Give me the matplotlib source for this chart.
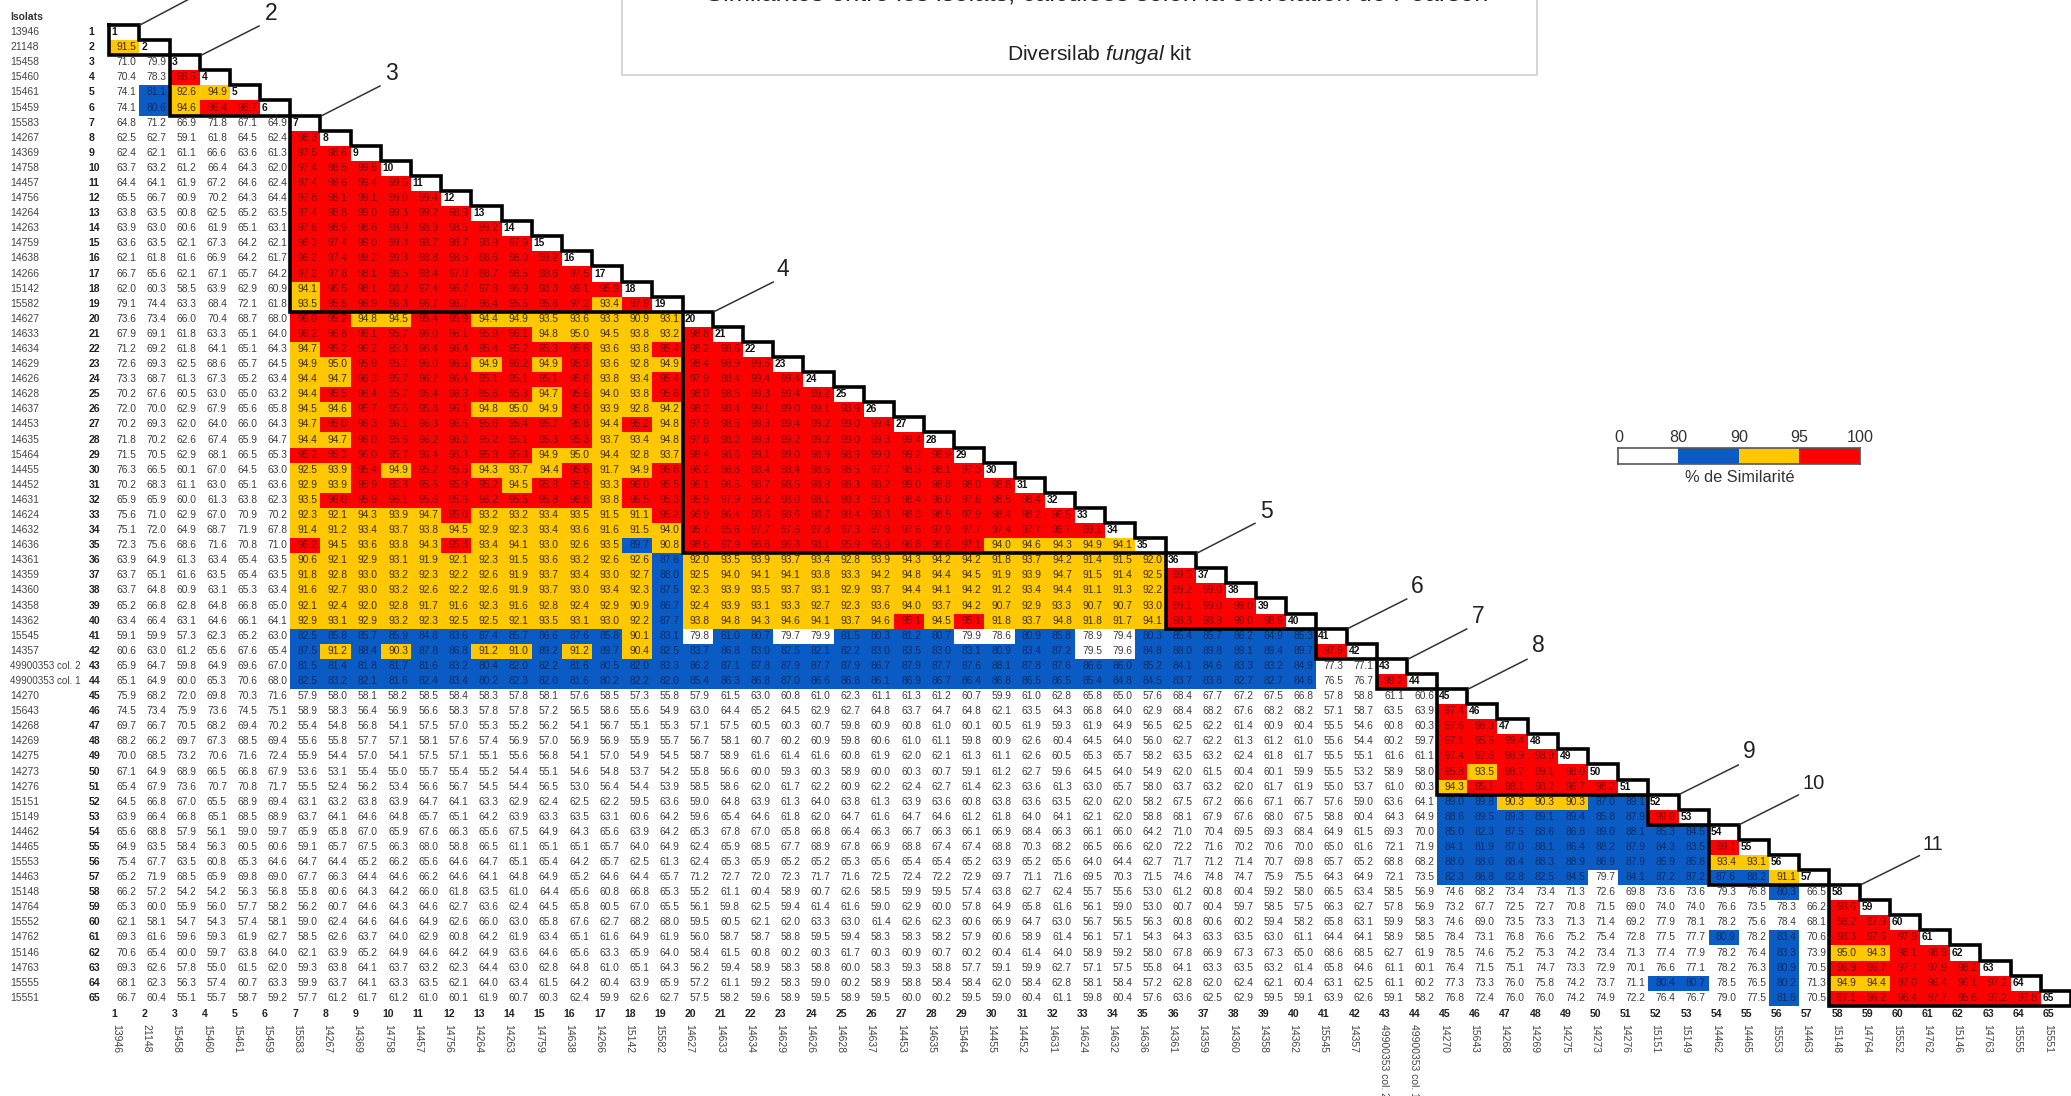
import numpy as np
import matplotlib
matplotlib.use("Agg")
import matplotlib.pyplot as plt
from matplotlib.colors import ListedColormap, BoundaryNorm

isolates = ["13946","21148","15458","15460","15461","15459","15583","14267","14369","14758","14457","14756","14264",
 "14263","14759","14638","14266","15142","15582","14627","14633","14634","14629","14626","14628","14637","14453",
 "14635","15464","14455","14452","14631","14624","14632","14636","14361","14359","14360","14358","14362","15545",
 "14357","49900353 col. 2","49900353 col. 1","14270","15643","14268","14269","14275","14273","14276","15151","15149",
 "14462","14465","15553","14463","15148","14764","15552","14762","15146","14763","15555","15551"]

# similarity (%) row by row; 94.96 = printed 95.0 but coloured below the 95 class
r02=[91.5]
r03=[71.0,79.9]
r04=[70.4,78.3,98.5]
r05=[74.1,81.1,92.6,94.9]
r06=[74.1,80.6,94.6,96.4,98.7]
r07=[64.8,71.2,66.9,71.8,67.1,64.9]
r08=[62.5,62.7,59.1,61.8,64.5,62.4,98.3]
r09=[62.4,62.1,61.1,66.6,63.6,61.3,97.5,98.6]
r10=[63.7,63.2,61.2,66.4,64.3,62.0,97.4,98.5,99.6]
r11=[64.4,64.1,61.9,67.2,64.6,62.4,97.4,98.6,99.4,99.5]
r12=[65.5,66.7,60.9,70.2,64.3,64.4,97.8,98.1,99.1,99.0,99.4]
r13=[63.8,63.5,60.8,62.5,65.2,63.5,97.4,98.8,99.0,99.3,99.2,98.9]
r14=[63.9,63.0,60.6,61.9,65.1,63.1,97.6,98.9,98.8,98.9,98.9,98.5,99.2]
r15=[63.6,63.5,62.1,67.3,64.2,62.1,96.3,97.4,99.0,99.3,98.7,98.7,98.9,97.9]
r16=[62.1,61.8,61.6,66.9,64.2,61.7,96.2,97.4,99.2,99.3,98.8,98.5,98.6,98.0,99.2]
r17=[66.7,65.6,62.1,67.1,65.7,64.2,97.2,97.8,98.1,98.5,98.4,97.9,98.7,98.5,98.6,97.5]
r18=[62.0,60.3,58.5,63.9,62.9,60.9,94.1,96.5,98.1,98.2,97.4,96.7,97.8,96.9,98.3,99.1,95.9]
r19=[79.1,74.4,63.3,68.4,72.1,61.8,93.5,95.6,96.9,96.3,96.7,96.7,96.4,95.5,95.6,97.2,93.4,97.9]
r20=[73.6,73.4,66.0,70.4,68.7,68.0,96.0,95.2,94.8,94.5,95.4,95.9,94.4,94.9,93.5,93.6,93.3,90.9,93.1]
r21=[67.9,69.1,61.8,63.3,65.1,64.0,96.2,96.8,96.1,95.7,96.0,96.1,95.9,96.1,94.8,94.96,94.5,93.8,93.2,98.8]
r22=[71.2,69.2,61.8,64.1,65.1,64.3,94.7,95.2,96.2,95.8,96.4,96.4,95.4,95.2,95.3,95.6,93.6,93.8,95.4,98.2,98.6]
r23=[72.6,69.3,62.5,68.6,65.7,64.5,94.9,94.96,95.9,95.7,96.0,96.5,94.9,96.2,94.9,95.3,93.6,92.8,94.9,98.4,98.9,99.5]
r24=[73.3,68.7,61.3,67.3,65.2,63.4,94.4,94.7,96.3,95.7,96.2,96.4,95.1,95.1,95.1,95.6,93.8,93.4,95.4,97.9,98.4,99.4,99.4]
r25=[70.2,67.6,60.5,63.0,65.0,63.2,94.4,95.5,96.4,95.7,96.4,96.3,95.6,95.3,94.7,95.6,94.0,93.8,95.6,98.0,98.5,99.3,99.4,99.2]
r26=[72.0,70.0,62.9,67.9,65.6,65.8,94.5,94.6,95.7,95.6,95.8,96.1,94.8,94.96,94.9,95.0,93.9,92.8,94.2,98.2,98.4,99.1,99.0,99.1,98.9]
r27=[70.2,69.3,62.0,64.0,66.0,64.3,94.7,95.0,96.3,96.1,96.3,96.5,95.6,95.4,95.7,95.8,94.4,95.2,94.8,97.9,98.5,99.3,99.4,99.2,99.0,99.4]
r28=[71.8,70.2,62.6,67.4,65.9,64.7,94.4,94.7,96.0,95.6,96.2,96.2,95.2,95.1,95.3,95.3,93.7,93.4,94.8,97.8,98.2,99.3,99.2,99.2,99.0,99.3,99.4]
r29=[71.5,70.5,62.9,68.1,66.5,65.3,95.2,95.3,96.0,95.7,96.4,96.3,95.3,95.3,94.9,94.96,94.4,92.8,93.7,98.4,98.6,99.1,99.0,98.9,98.9,99.0,99.2,98.9]
r30=[76.3,66.5,60.1,67.0,64.5,63.0,92.5,93.9,95.4,94.9,95.2,95.5,94.3,93.7,94.4,95.6,91.7,94.9,96.8,96.2,96.8,98.4,98.4,98.6,98.5,97.7,98.3,98.1,97.3]
r31=[70.2,68.3,61.1,63.0,65.1,63.6,92.9,93.9,95.9,95.8,95.6,95.9,95.2,94.5,95.8,95.9,93.3,96.0,95.5,96.1,96.5,98.7,98.5,98.8,98.3,98.2,99.0,98.8,98.0,98.8]
r32=[65.9,65.9,60.0,61.3,63.8,62.3,93.5,96.0,95.9,96.1,95.6,95.6,96.2,95.5,95.8,96.8,93.8,96.5,95.3,95.9,97.9,98.2,98.0,98.1,98.3,97.8,98.4,98.0,97.6,98.5,98.4]
r33=[75.6,71.0,62.9,67.0,70.9,70.2,92.3,92.1,94.3,93.9,94.7,95.0,93.2,93.2,93.4,93.5,91.5,91.1,95.2,96.9,96.4,98.6,98.6,98.7,98.4,98.3,98.3,98.5,97.9,98.4,98.2,96.5]
r34=[75.1,72.0,64.9,68.7,71.9,67.8,91.4,91.2,93.4,93.7,93.8,94.5,92.9,92.3,93.4,93.6,91.6,91.5,94.0,95.7,95.6,97.7,97.6,97.8,97.3,97.8,97.6,97.9,97.7,97.4,97.7,96.7,99.1]
r35=[72.3,75.6,68.6,71.6,70.8,71.0,96.2,94.5,93.6,93.8,94.3,95.3,93.4,94.1,93.0,92.6,93.5,89.7,90.8,98.6,97.9,96.6,96.8,98.1,95.9,96.9,96.8,96.6,97.1,94.0,94.6,94.3,94.9,94.1]
r36=[63.9,64.9,61.3,63.4,65.4,63.5,90.6,92.1,92.9,93.1,91.9,92.1,92.3,91.5,93.6,93.2,92.6,92.6,87.6,92.0,93.5,93.9,93.7,93.4,92.8,93.9,94.3,94.2,94.2,91.8,93.7,94.2,91.4,91.5,92.0]
r37=[63.7,65.1,61.6,63.5,65.4,63.5,91.8,92.8,93.0,93.2,92.3,92.2,92.6,91.9,93.7,93.4,93.0,92.7,88.0,92.5,94.0,94.1,94.1,93.8,93.3,94.2,94.8,94.4,94.5,91.9,93.9,94.7,91.5,91.4,92.5,99.5]
r38=[63.7,64.8,60.9,63.1,65.3,63.4,91.6,92.7,93.0,93.2,92.6,92.2,92.6,91.9,93.7,93.0,93.4,92.3,87.5,92.3,93.9,93.5,93.7,93.1,92.9,93.7,94.4,94.1,94.2,91.2,93.4,94.4,91.1,91.3,92.2,99.2,99.0]
r39=[65.2,66.8,62.8,64.8,66.8,65.0,92.1,92.4,92.0,92.8,91.7,91.6,92.3,91.6,92.8,92.4,92.9,90.9,86.7,92.4,93.9,93.1,93.3,92.7,92.3,93.6,94.0,93.7,94.2,90.7,92.9,93.3,90.7,90.7,93.0,99.1,99.0,99.0]
r40=[63.4,66.4,63.1,64.6,66.1,64.1,92.9,93.1,92.9,93.2,92.3,92.5,92.5,92.1,93.5,93.1,93.0,92.2,87.7,93.8,94.8,94.3,94.6,94.1,93.7,94.6,95.1,94.5,95.1,91.8,93.7,94.8,91.8,91.7,94.1,98.8,98.8,99.0,98.9]
r41=[59.1,59.9,57.3,62.3,65.2,63.0,82.5,85.8,85.7,85.9,84.8,83.6,87.4,85.7,86.6,87.6,85.8,90.1,83.1,79.8,81.0,80.7,79.7,79.9,81.5,80.3,81.2,80.7,79.9,78.6,80.9,85.8,78.9,79.4,80.3,85.4,85.7,86.2,84.9,85.3]
r42=[60.6,63.0,61.2,65.6,67.6,65.4,87.5,91.2,88.4,90.3,87.8,86.8,91.2,91.0,89.2,91.2,89.7,90.4,82.5,83.7,86.8,83.0,82.5,82.1,82.2,83.0,83.5,83.0,83.1,80.9,83.4,87.2,79.5,79.6,84.8,88.0,89.8,89.1,89.4,89.7,97.9]
r43=[65.9,64.7,59.8,64.9,69.6,67.0,81.5,81.4,81.8,81.7,81.6,83.2,80.4,82.0,82.2,81.6,80.5,82.0,83.3,86.2,87.1,87.8,87.9,87.7,87.9,86.7,87.9,87.7,87.6,88.1,87.8,87.6,86.6,86.0,85.2,84.1,84.6,83.3,83.2,84.9,77.3,77.1]
r44=[65.1,64.9,60.0,65.3,70.6,68.0,82.5,83.2,82.1,81.6,82.4,83.4,80.2,82.3,82.0,81.6,80.2,82.2,82.0,85.4,86.3,86.8,87.0,86.6,86.8,86.1,86.9,86.7,86.4,86.8,86.5,86.5,85.4,84.8,84.5,83.7,83.8,82.7,82.7,84.6,76.5,76.7,99.2]
r45=[75.9,68.2,72.0,69.8,70.3,71.6,57.9,58.0,58.1,58.2,58.5,58.4,58.3,57.8,58.1,57.6,58.5,57.3,55.8,57.9,61.5,63.0,60.8,61.0,62.3,61.1,61.3,61.2,60.7,59.9,61.0,62.8,65.8,65.0,57.6,68.4,67.7,67.2,67.5,66.8,57.8,58.8,61.1,60.6]
r46=[74.5,73.4,75.9,73.6,74.5,75.1,58.9,58.3,56.4,56.9,56.6,58.3,57.8,57.8,57.2,56.5,58.6,55.6,54.9,63.0,64.4,65.2,64.5,62.9,62.7,64.8,63.7,64.7,64.8,62.1,63.5,64.3,66.8,64.0,62.9,68.4,68.2,67.6,68.2,68.2,57.1,58.7,63.5,63.9,97.4]
r47=[69.7,66.7,70.5,68.2,69.4,70.2,55.4,54.8,56.8,54.1,57.5,57.0,55.3,55.2,56.2,54.1,56.7,55.1,55.3,57.1,57.5,60.5,60.3,60.7,59.8,60.9,60.8,61.0,60.1,60.5,61.9,59.3,61.9,64.9,56.5,62.5,62.2,61.4,60.9,60.4,55.5,54.6,60.8,60.3,97.6,96.3]
r48=[68.2,66.2,69.7,67.3,68.5,69.4,55.6,55.8,57.7,57.1,58.1,57.6,57.4,56.9,57.0,56.9,56.9,55.9,55.7,56.7,58.1,60.7,60.2,60.9,59.8,60.6,61.0,61.1,59.8,60.9,62.6,60.4,64.5,64.0,56.0,62.7,62.2,61.3,61.2,61.0,55.6,54.4,60.2,59.7,97.1,95.5,99.4]
r49=[70.0,68.5,73.2,70.6,71.6,72.4,55.9,54.4,57.0,54.1,57.5,57.1,55.1,55.6,56.8,54.1,57.0,54.9,54.5,58.7,58.9,61.6,61.4,61.6,60.8,61.9,62.0,62.1,61.3,61.1,62.6,60.5,65.3,65.7,58.2,63.5,63.2,62.4,61.8,61.7,55.5,55.1,61.6,61.1,97.4,97.6,98.9,98.9]
r50=[67.1,64.9,68.9,66.5,66.8,67.9,53.6,53.1,55.4,55.0,55.7,55.4,55.2,54.4,55.1,54.6,54.8,53.7,54.2,55.8,56.6,60.0,59.3,60.3,58.9,60.0,60.3,60.7,59.1,61.2,62.7,59.6,64.5,64.0,54.9,62.0,61.5,60.4,60.1,59.9,55.5,53.2,58.9,58.0,95.8,93.5,98.7,99.1,98.0]
r51=[65.4,67.9,73.6,70.7,70.8,71.7,55.5,52.4,56.2,53.4,56.6,56.7,54.5,54.4,56.5,53.0,56.4,54.4,53.9,58.5,58.6,62.0,61.7,62.2,60.9,62.2,62.4,62.7,61.4,62.3,63.6,61.3,63.0,65.7,58.0,63.7,63.2,62.0,61.7,61.9,55.0,53.7,61.0,60.3,94.3,95.1,98.1,98.2,96.7,98.2]
r52=[64.5,66.8,67.0,65.5,68.9,69.4,63.1,63.2,63.8,63.9,64.7,64.1,63.3,62.9,62.4,62.5,62.2,59.5,63.6,59.0,64.8,63.9,61.3,64.0,63.8,61.3,63.9,63.6,60.8,63.8,63.6,63.5,62.0,62.0,58.2,67.5,67.2,66.6,67.1,66.7,57.6,59.0,63.6,64.1,89.0,89.8,90.3,90.3,90.3,87.0,89.1]
r53=[63.9,66.4,66.8,65.1,68.5,68.9,63.7,64.1,64.6,64.8,65.7,65.1,64.2,63.9,63.3,63.5,63.1,60.6,64.2,59.6,65.4,64.6,61.8,62.0,64.7,61.6,64.7,64.6,61.2,61.8,64.0,64.1,62.1,62.0,58.8,68.1,67.9,67.6,68.0,67.5,58.8,60.4,64.3,64.9,88.6,89.5,89.3,89.1,89.4,85.8,87.9,99.0]
r54=[65.6,68.8,57.9,56.1,59.0,59.7,65.9,65.8,67.0,65.9,67.6,66.3,65.6,67.5,64.9,64.3,65.6,63.9,64.2,65.3,67.8,67.0,65.8,66.8,66.4,66.3,66.7,66.3,66.1,66.9,68.4,66.3,66.1,66.0,64.2,71.0,70.4,69.5,69.3,68.4,64.9,61.5,69.3,70.0,85.0,82.3,87.5,88.6,86.8,89.0,88.1,85.3,84.5]
r55=[64.9,63.5,58.4,56.3,60.5,60.6,59.1,65.7,67.5,66.3,68.0,58.8,66.5,61.1,65.1,65.1,65.7,64.0,64.9,62.4,65.9,68.5,67.7,68.9,67.8,66.9,68.8,67.4,67.4,68.8,70.3,68.2,66.5,66.6,62.0,72.2,71.6,70.2,70.6,70.0,65.0,61.6,72.1,71.9,84.1,81.9,87.0,88.1,86.4,88.2,87.9,84.3,83.5,99.1]
r56=[75.4,67.7,63.5,60.8,65.3,64.6,64.7,64.4,65.2,66.2,65.6,64.6,64.7,65.1,65.4,64.2,65.7,62.5,61.3,62.4,65.3,65.9,65.2,65.2,65.3,65.6,65.4,65.4,65.2,63.9,65.2,65.6,64.0,64.4,62.7,71.7,71.2,71.4,70.7,69.8,65.7,65.2,68.8,68.2,88.0,88.0,88.4,88.3,88.9,86.9,87.9,85.9,85.8,93.4,93.1]
r57=[65.2,71.9,68.5,65.9,69.8,69.0,67.7,66.3,64.4,64.6,66.2,64.6,64.1,64.8,64.9,65.2,64.6,64.4,65.7,71.2,72.7,72.0,72.3,71.7,71.6,72.5,72.4,72.2,72.9,69.7,71.1,71.6,69.5,70.3,71.5,74.6,74.8,74.7,75.9,75.5,64.3,64.9,72.1,73.5,82.3,86.8,82.8,82.5,84.5,79.7,84.1,87.2,87.2,87.6,88.2,91.1]
r58=[66.2,57.2,54.2,54.2,56.3,56.8,55.8,60.6,64.3,64.2,66.0,61.8,63.5,61.0,64.4,65.6,60.8,66.8,65.3,55.2,61.1,60.4,58.9,60.7,62.6,58.5,59.9,59.5,57.4,63.8,62.7,62.4,55.7,55.6,53.0,61.2,60.8,60.4,59.2,58.0,66.5,63.4,58.5,56.9,74.6,68.2,73.4,73.4,71.3,72.6,69.8,73.6,73.6,79.3,76.8,80.3,66.5]
r59=[65.3,60.0,55.9,56.0,57.7,58.2,56.2,60.7,64.6,64.3,64.6,62.7,63.6,62.4,64.5,65.8,60.5,67.0,65.5,56.1,59.8,62.5,59.4,61.4,61.6,59.0,62.9,60.0,57.8,64.9,65.8,61.6,56.1,59.0,53.0,60.7,60.4,59.7,58.5,57.5,66.3,62.7,57.8,56.9,73.2,67.7,72.5,72.7,70.8,71.5,69.0,74.0,74.0,76.6,73.5,78.3,66.2,98.6]
r60=[62.1,58.1,54.7,54.3,57.4,58.1,59.0,62.4,64.6,64.6,64.9,62.6,66.0,63.0,65.8,67.6,62.7,68.2,68.0,59.5,60.5,62.1,62.0,63.3,63.0,61.4,62.6,62.3,60.6,66.9,64.7,63.0,56.7,56.5,56.3,60.8,60.6,60.2,59.4,58.2,65.8,63.1,59.9,58.3,74.6,69.0,73.5,73.3,71.3,71.4,69.2,77.9,78.1,78.2,75.6,78.4,68.1,98.2,97.9]
r61=[69.3,61.6,59.6,59.3,61.9,62.7,58.5,62.6,63.7,64.0,62.9,60.8,64.2,61.9,63.4,65.1,61.6,64.9,61.9,56.0,58.7,58.7,58.8,59.5,59.4,58.3,58.3,58.2,57.9,60.6,58.9,61.4,56.1,57.1,54.3,64.3,63.3,63.5,63.0,61.1,64.4,64.1,58.9,58.5,78.4,73.1,76.8,76.6,75.2,75.4,72.8,77.5,77.7,80.9,78.2,83.4,70.6,98.3,97.6,97.9]
r62=[70.6,65.4,60.0,59.7,63.8,64.0,62.1,63.9,65.2,64.9,64.6,64.2,64.9,63.6,64.6,65.6,63.3,65.9,64.0,58.4,61.5,60.8,60.2,60.3,61.7,60.3,60.9,60.7,60.2,60.4,61.4,64.0,58.9,59.2,58.0,67.8,66.9,67.3,67.3,65.0,68.6,68.5,62.7,61.9,78.5,74.6,75.2,75.3,74.2,73.4,71.3,77.4,77.9,78.2,76.4,83.3,73.9,94.96,94.3,98.1,96.9]
r63=[69.3,62.6,57.8,55.0,61.5,62.0,59.3,63.8,64.1,63.7,63.2,62.3,64.4,63.0,62.8,64.8,61.0,65.1,64.3,56.2,59.4,58.9,58.3,58.8,60.0,58.3,59.3,58.8,57.7,59.1,59.9,62.7,57.1,57.5,55.8,64.1,63.3,63.5,63.2,61.4,65.8,64.6,61.1,60.1,76.4,71.5,75.1,74.7,73.3,72.9,70.1,76.6,77.1,78.2,76.3,80.9,70.5,96.9,96.7,97.7,97.9,98.2]
r64=[68.1,62.3,56.3,57.4,60.7,63.3,59.9,63.7,64.1,63.3,63.5,62.1,64.0,63.4,61.5,64.2,60.4,63.9,65.9,57.2,61.1,59.2,58.3,59.0,60.2,58.9,58.8,58.4,58.4,62.0,58.4,62.8,58.1,58.4,57.2,62.8,62.0,62.4,62.1,60.4,63.1,62.5,61.1,60.2,77.3,73.3,76.0,75.8,74.2,73.7,71.1,80.4,80.7,78.5,76.5,80.2,71.3,94.9,94.4,97.0,96.4,96.1,97.2]
r65=[66.7,60.4,55.1,55.7,58.7,59.2,57.7,61.2,61.7,61.2,61.0,60.1,61.9,60.7,60.3,62.4,59.9,62.6,62.7,57.5,58.2,59.6,58.9,59.5,58.9,59.5,60.0,60.2,59.5,59.0,60.4,61.1,59.8,60.4,57.6,63.6,62.5,62.9,59.5,59.1,63.9,62.6,59.1,58.2,76.8,72.4,76.0,76.0,74.2,74.9,72.2,76.4,76.7,79.0,77.5,81.6,70.5,97.1,96.2,96.4,97.7,95.6,97.2,97.8]

rows = [[],r02,r03,r04,r05,r06,r07,r08,r09,r10,r11,r12,r13,r14,r15,r16,r17,r18,r19,r20,r21,r22,r23,r24,r25,r26,r27,r28,r29,
        r30,r31,r32,r33,r34,r35,r36,r37,r38,r39,r40,r41,r42,r43,r44,r45,r46,r47,r48,r49,r50,r51,r52,r53,r54,r55,r56,r57,r58,
        r59,r60,r61,r62,r63,r64,r65]
clusters = [(1,2),(3,6),(7,19),(20,35),(36,40),(41,42),(43,44),(45,51),(52,53),(54,57),(58,65)]
cluster_ids = ["1","2","3","4","5","6","7","8","9","10","11"]
class_edges = [0,80,90,95,100]
class_colors = ["#FFFFFF","#0A5CC4","#FFC800","#FF0000"]
text_colors  = ["#3C3C3C","#0B2C66","#3A2E00","#7A0000"]

FONT = "Liberation Sans"
plt.rcParams["font.family"] = [FONT, "DejaVu Sans"]
plt.rcParams["mathtext.fontset"] = "custom"
plt.rcParams["mathtext.rm"] = FONT
plt.rcParams["mathtext.it"] = FONT + ":italic"
W, H = 2071, 1096
n = len(isolates)
X0, DX, Y0, DY = 109.2, 30.18, 25.0, 15.09

fig = plt.figure(figsize=(W/100, H/100), dpi=100, facecolor="white")
page = fig.add_axes([0, 0, 1, 1], zorder=3)
page.set_xlim(0, W); page.set_ylim(H, 0); page.axis("off"); page.patch.set_alpha(0)
ax = fig.add_axes([X0/W, 1-(Y0+n*DY)/H, n*DX/W, n*DY/H], zorder=1)
ax.set_xlim(0, n); ax.set_ylim(n, 0); ax.axis("off")

M = np.full((n, n), np.nan)
for i, r in enumerate(rows):
    assert len(r) == i, i
    M[i, :i] = r
cmap = ListedColormap(class_colors)
norm = BoundaryNorm(class_edges, cmap.N)
ax.pcolormesh(np.arange(n+1), np.arange(n+1), np.ma.masked_invalid(M), cmap=cmap, norm=norm, antialiased=False)

for i, r in enumerate(rows):
    for j, v in enumerate(r):
        c = text_colors[int(np.searchsorted(class_edges, v, side="right"))-1]
        ax.text(j+0.57, i+0.47, f"{v:.1f}", ha="center", va="center", fontsize=7.4, color=c, family=FONT)
    ax.text(i+0.06, i+0.47, str(i+1), ha="left", va="center", fontsize=7.4, fontweight="bold", color="#111111", family=FONT)
    # row and column headers
    yy = Y0+(i+0.47)*DY
    page.text(10, yy, isolates[i], ha="left", va="center", fontsize=7.1 if " " in isolates[i] else 7.5, color="#444444")
    page.text(88.5, yy, str(i+1), ha="left", va="center", fontsize=7.6, fontweight="bold", color="#222222")
    xx = X0+i*DX
    page.text(xx+1.8, 1014, str(i+1), ha="left", va="center", fontsize=7.6, fontweight="bold", color="#222222")
    page.text(xx+7, 1024, isolates[i], ha="center", va="top", rotation=-90, fontsize=7.5, color="#444444")

# cluster staircases
for a, b in clusters:
    xs, ys = [a-1], [a-1]
    for k in range(a, b+1):
        xs += [k, k]; ys += [k-1, k]
    xs += [a-1, a-1]; ys += [b, a-1]
    ax.plot(xs, ys, color="black", lw=2.6, solid_joinstyle="miter", solid_capstyle="projecting", clip_on=False, zorder=5)

# leader lines with cluster numbers (page pixels)
leaders = [((140,25),(193,-3),None),((201.7,55),(259,26),(270.7,13)),((321.7,115.7),(380,86),(391.7,73)),
           ((714,311.7),(773.3,282),(783.3,269.5)),((1196.7,553.3),(1255,523.3),(1266.7,511.5)),
           ((1348.3,628.3),(1406.7,599),(1417.7,586.5)),((1408.3,659),(1466.7,629),(1478.3,616.5)),
           ((1468.3,689),(1527,659.3),(1538,646)),((1680,794),(1738.3,765),(1749.3,752)),
           ((1740,824.3),(1798.3,795),(1814,783.5)),((1861.7,884.3),(1919.3,855.7),(1933.3,844))]
for cid, (p, q, t) in zip(cluster_ids, leaders):
    page.plot([p[0], q[0]], [p[1], q[1]], color="#333333", lw=1.1, clip_on=True)
    if t is not None:
        page.text(t[0], t[1], cid, ha="center", va="center", fontsize=14.5 if len(cid) > 1 else 16.5, color="#222222")

# legend bar
leg = fig.add_axes([1618/W, 1-463.5/H, 241.6/W, 15.8/H], zorder=2)
leg.pcolormesh(np.arange(5), [0, 1], np.array([[10, 85, 92, 97]]), cmap=cmap, norm=norm, antialiased=False)
leg.set_xlim(0, 4); leg.set_ylim(0, 1); leg.set_xticks([]); leg.set_yticks([])
for s in leg.spines.values():
    s.set_color("#555555"); s.set_linewidth(1.2)
for t, v in zip(range(5), ["0", "80", "90", "95", "100"]):
    page.text(1618.4+t*60.35, 437.5, v, ha="center", va="center", fontsize=11.6, color="#333333")
page.text(1739.3, 477.5, "% de Similarité", ha="center", va="center", fontsize=11.8, color="#333333")

# caption box, cut by the top of the picture
page.plot([622, 622, 1537, 1537], [0, 75, 75, 0], color="#CCCCCC", lw=1.1)
page.text(1097, 0.5, "Similarités entre les isolats, calculées selon la corrélation de Pearson", ha="center", va="baseline",
          fontsize=18.4, color="#222222", clip_on=True)
page.text(1100, 54.5, r"Diversilab $\mathit{fungal}$ kit", ha="center", va="center", fontsize=15.2, color="#222222")
page.text(10, 16.5, "Isolats", ha="left", va="center", fontsize=7.5, fontweight="bold", color="#333333")

fig.savefig("out.png", dpi=100, facecolor="white")
